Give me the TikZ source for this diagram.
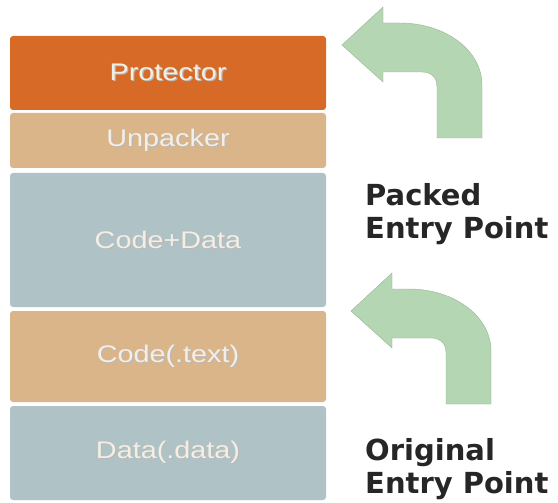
\documentclass[tikz,border=0pt]{standalone}
\usepackage{fontspec}
\usepackage{graphicx}
\setmainfont{Liberation Sans}
\newfontfamily\labelfont{DejaVu Sans}
\definecolor{protcol}{HTML}{D66A26}
\definecolor{tancol}{HTML}{DAB589}
\definecolor{bluecol}{HTML}{AFC3C6}
\definecolor{arrowcol}{HTML}{B5D6B2}
\definecolor{txtcol}{HTML}{F4EEE4}
\definecolor{shadcol}{HTML}{8A8A8A}
\newcommand{\boxtext}[1]{\scalebox{1.2}[1]{\makebox[0pt][l]{\raisebox{-1pt}{\hspace{1pt}\color{shadcol!60}#1}}\color{txtcol}#1}}
\tikzset{
  layer/.style={rounded corners=3pt, minimum width=316pt, inner sep=0pt,
    font=\fontsize{24}{28}\selectfont},
  entrylabel/.style={font=\labelfont\bfseries\fontsize{29}{33}\selectfont,
    align=left, anchor=north west, inner sep=0pt, text=black!85},
  bentarrow/.style={fill=arrowcol, draw=arrowcol!85!black, line width=0.4pt}
}
\begin{document}
\begin{tikzpicture}[x=1pt,y=-1pt]
\useasboundingbox (0,0) rectangle (558,503);
\fill[white] (0,0) rectangle (558,503);
% layers
\node[layer, fill=protcol, minimum height=74pt] (prot) at (168,73) {\boxtext{Protector}};
\node[layer, fill=tancol, minimum height=55pt] (unp) at (168,140.5) {\boxtext{Unpacker}};
\node[layer, fill=bluecol, minimum height=134pt] (cd) at (168,240) {\boxtext{Code+Data}};
\node[layer, fill=tancol, minimum height=91pt] (ct) at (168,356.5) {\boxtext{Code(.text)}};
\node[layer, fill=bluecol, minimum height=94pt] (dd) at (168,453) {\boxtext{Data(.data)}};
% bent arrows
\coordinate (a1) at (342,45);
\coordinate (a2) at (351,311);
\foreach \c in {a1,a2}{
  \path[bentarrow, shift={(\c)}]
    (0,0) -- (41,-38) -- (41,-22) -- (58,-22)
    .. controls (103,-22) and (140,5) .. (140,40)
    -- (140,93) -- (95,93) -- (95,42)
    .. controls (95,33) and (90,27) .. (80,27)
    -- (41,27) -- (41,37) -- cycle;
}
% labels
\node[entrylabel] (packed) at (365,183) {Packed\\Entry Point};
\node[entrylabel] (orig) at (365,438) {Original\\Entry Point};
\end{tikzpicture}
\end{document}
